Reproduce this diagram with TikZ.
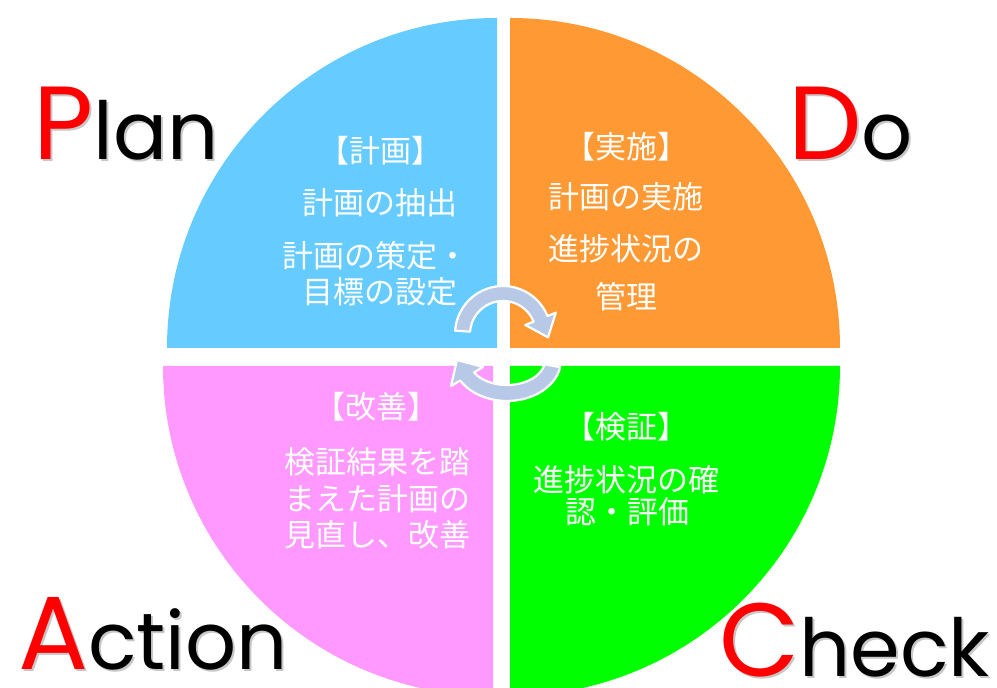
\documentclass[tikz,border=0pt]{standalone}
\usepackage{fontspec}
\newfontfamily\jpfont{Noto Sans CJK JP}
\newfontfamily\latfont{Poppins}
\usetikzlibrary{calc}
\definecolor{qblue}{RGB}{102,204,255}
\definecolor{qorange}{RGB}{255,153,51}
\definecolor{qpink}{RGB}{255,153,255}
\definecolor{qgreen}{RGB}{0,255,0}
\definecolor{cycfill}{RGB}{183,201,231}
\newcommand\pdcaWord[3]{\latfont{\color{#1}\fontsize{104}{104}\selectfont #2}{\fontsize{80}{80}\selectfont #3}}
\begin{document}
\begin{tikzpicture}[x=1pt,y=1pt,
  jptext/.style={text=white,font=\jpfont\fontsize{31}{36}\selectfont,inner sep=0pt,text height=0.8em,text depth=0.08em},
  cycarrow/.style={fill=cycfill,draw=white,line width=2.2pt,line join=round},
  bigword/.style={anchor=base west,inner sep=0pt,text=black},
  bigshadow/.style={anchor=base west,inner sep=0pt,text=black,opacity=0.22}]
\useasboundingbox (0,0) rectangle (997,688);
\clip (0,0) rectangle (997,688);
% quadrants
\fill[qblue]   (497,340) -- (167,340) arc[start angle=180,end angle=90,radius=330] -- cycle;
\fill[qorange] (510,340) -- (510,670) arc[start angle=90,end angle=0,radius=330] -- cycle;
\fill[qpink]   (493,322) -- (163,322) arc[start angle=180,end angle=270,radius=330] -- cycle;
\fill[qgreen]  (510,322) -- (840,322) arc[start angle=0,end angle=-90,radius=330] -- cycle;
% cycle arrows
\coordinate (c1) at (503,354);
\path[cycarrow] ($(c1)+(176:48)$) arc[start angle=176,end angle=22,radius=48]
  -- ($(c1)+(22:57)$) -- ($(c1)+(22:40.5)+(-68:20)$) -- ($(c1)+(22:24)$)
  -- ($(c1)+(22:33)$) arc[start angle=22,end angle=176,radius=33] -- cycle;
\coordinate (c2) at (507,328);
\path[cycarrow] ($(c2)+(-10:54 and 41)$) arc[start angle=-10,end angle=-150,x radius=54,y radius=41]
  -- (451,302) -- (457,328) -- (483,321)
  -- ($(c2)+(-150:38 and 25)$) arc[start angle=-150,end angle=-10,x radius=38,y radius=25] -- cycle;
% texts
\node[jptext] (p0) at (380,529) {【計画】};
\node[jptext] (p1) at (380,477) {計画の抽出};
\node[jptext] (p2) at (375,424) {計画の策定・};
\node[jptext] (p3) at (380,388) {目標の設定};
\node[jptext] (d0) at (626,533) {【実施】};
\node[jptext] (d1) at (626,483) {計画の実施};
\node[jptext] (d2) at (626,431) {進捗状況の};
\node[jptext] (d3) at (626,383) {管理};
\node[jptext] (a0) at (376,273) {【改善】};
\node[jptext] (a1) at (377,218) {検証結果を踏};
\node[jptext] (a2) at (377,181) {まえた計画の};
\node[jptext] (a3) at (377,145) {見直し、改善};
\node[jptext] (k0) at (626,253) {【検証】};
\node[jptext] (k1) at (626,200) {進捗状況の確};
\node[jptext] (k2) at (627,168) {認・評価};
% big words
\node[bigshadow] (plans) at (35,526) {\pdcaWord{black}{P}{lan}};
\node[bigword]   (plan)  at (33,528) {\pdcaWord{red}{P}{lan}};
\node[bigshadow] (dos)   at (790,526) {\pdcaWord{black}{D}{o}};
\node[bigword]   (do)    at (788,528) {\pdcaWord{red}{D}{o}};
\node[bigshadow] (acts)  at (20,16) {\pdcaWord{black}{A}{ction}};
\node[bigword]   (act)   at (18,18) {\pdcaWord{red}{A}{ction}};
\node[bigshadow] (chks)  at (721,9) {\pdcaWord{black}{C}{heck}};
\node[bigword]   (chk)   at (719,11) {\pdcaWord{red}{C}{heck}};
\end{tikzpicture}
\end{document}
